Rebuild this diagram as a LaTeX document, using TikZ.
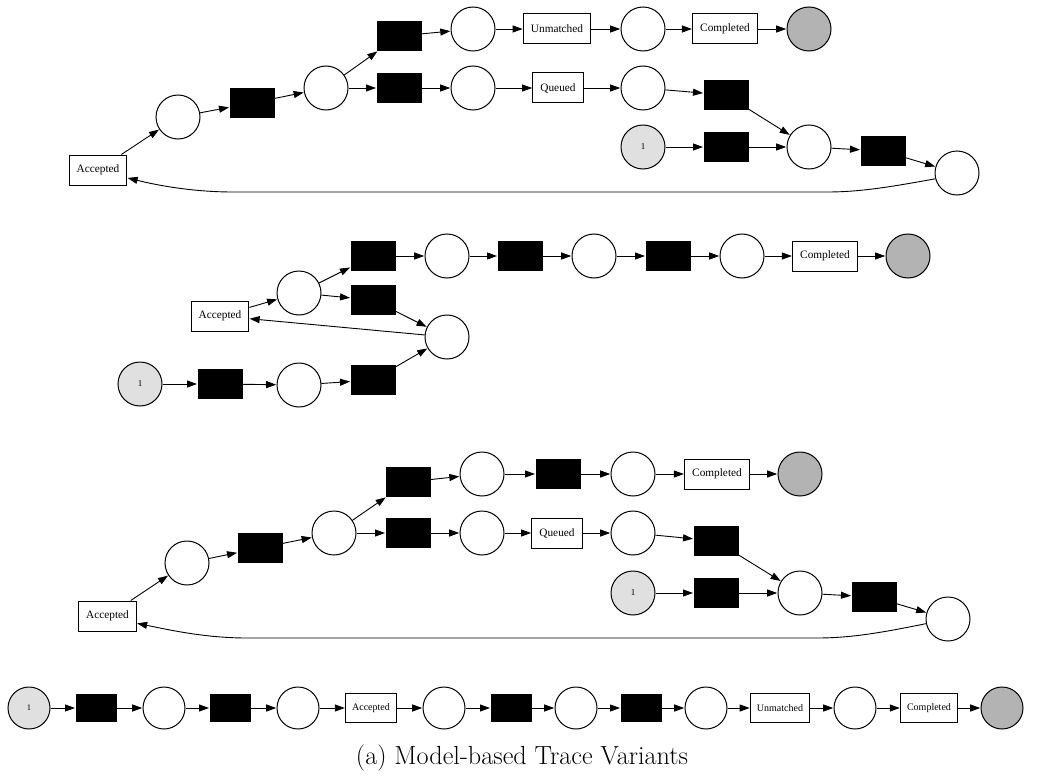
\documentclass[tikz,border=0pt]{standalone}
\usepackage{fontspec}
\usetikzlibrary{arrows.meta}
\newfontfamily\labfont{Liberation Serif}
\definecolor{startgray}{HTML}{E0E0E0}
\definecolor{endgray}{HTML}{B3B3B3}
\tikzset{
  place/.style={circle, draw, line width=1pt, minimum size=44pt, inner sep=0pt, fill=white},
  trans/.style={rectangle, fill=black, minimum width=45pt, minimum height=30pt, inner sep=0pt},
  lab/.style={rectangle, draw, line width=1pt, fill=white, minimum height=30pt, inner xsep=7.5pt, inner ysep=0pt, font=\labfont\fontsize{11.3}{13}\selectfont},
  startp/.style={place, fill=startgray, font=\labfont\fontsize{9}{10}\selectfont},
  endp/.style={place, fill=endgray},
  splace/.style={place, minimum size=42pt},
  strans/.style={trans, minimum width=41pt, minimum height=28pt},
  slab/.style={lab, minimum height=29pt, inner xsep=6.5pt, font=\labfont\fontsize{10}{12}\selectfont},
  sstart/.style={startp, minimum size=42pt, font=\labfont\fontsize{8.5}{10}\selectfont},
  send/.style={endp, minimum size=42pt},
  arc/.style={-{Triangle[length=10pt,width=7pt]}, line width=0.9pt, shorten >=0.3pt},
}
\begin{document}
\begin{tikzpicture}[x=1pt, y=-1pt]
\useasboundingbox[fill=white] (0,0) rectangle (1041,781);
% ---------------- Variant 1 ----------------
\node[lab] (a1A) at (98,170) {Accepted};
\node[place] (a1p1) at (178,117) {};
\node[trans] (a1t1) at (252,103) {};
\node[place] (a1p2) at (326,88) {};
\node[trans] (a1t2) at (399,36) {};
\node[trans] (a1t3) at (399,88) {};
\node[place] (a1p3) at (473,29) {};
\node[place] (a1p4) at (473,88) {};
\node[lab] (a1U) at (557,29) {Unmatched};
\node[place] (a1p5) at (643,29) {};
\node[lab] (a1C) at (725,29) {Completed};
\node[endp] (a1E) at (809,29) {};
\node[lab] (a1Q) at (558,88) {Queued};
\node[place] (a1p6) at (643,88) {};
\node[trans] (a1t4) at (726,95) {};
\node[startp] (a1S) at (643,147) {1};
\node[trans] (a1t5) at (726,147) {};
\node[place] (a1p7) at (809,147) {};
\node[trans] (a1t6) at (883,151) {};
\node[place] (a1p8) at (957,173) {};
\draw[arc] (a1A) -- (a1p1);
\draw[arc] (a1p1) -- (a1t1);
\draw[arc] (a1t1) -- (a1p2);
\draw[arc] (a1p2) -- (a1t2);
\draw[arc] (a1p2) -- (a1t3);
\draw[arc] (a1t2) -- (a1p3);
\draw[arc] (a1t3) -- (a1p4);
\draw[arc] (a1p3) -- (a1U);
\draw[arc] (a1U) -- (a1p5);
\draw[arc] (a1p5) -- (a1C);
\draw[arc] (a1C) -- (a1E);
\draw[arc] (a1p4) -- (a1Q);
\draw[arc] (a1Q) -- (a1p6);
\draw[arc] (a1p6) -- (a1t4);
\draw[arc] (a1t4) -- (a1p7);
\draw[arc] (a1S) -- (a1t5);
\draw[arc] (a1t5) -- (a1p7);
\draw[arc] (a1p7) -- (a1t6);
\draw[arc] (a1t6) -- (a1p8);
\draw[arc] (a1p8.195) .. controls (890,187) and (860,192) .. (827,192) -- (233,192) .. controls (195,192) and (160,186) .. (a1A.-15);
% ---------------- Variant 2 ----------------
\node[lab] (b2A) at (220,316) {Accepted};
\node[place] (b2p1) at (299,293) {};
\node[trans] (b2t1) at (373,256) {};
\node[trans] (b2t2) at (373,300) {};
\node[place] (b2p2) at (447,337) {};
\node[place] (b2p3) at (447,256) {};
\node[trans] (b2t3) at (520,256) {};
\node[place] (b2p4) at (594,256) {};
\node[trans] (b2t4) at (668,256) {};
\node[place] (b2p5) at (742,256) {};
\node[lab] (b2C) at (825,256) {Completed};
\node[endp] (b2E) at (908,256) {};
\node[startp] (b2S) at (140,384) {1};
\node[trans] (b2t5) at (220,384) {};
\node[place] (b2p6) at (299,385) {};
\node[trans] (b2t6) at (373,380) {};
\draw[arc] (b2A) -- (b2p1);
\draw[arc] (b2p1) -- (b2t1);
\draw[arc] (b2p1) -- (b2t2);
\draw[arc] (b2t1) -- (b2p3);
\draw[arc] (b2t2) -- (b2p2);
\draw[arc] (b2p3) -- (b2t3);
\draw[arc] (b2t3) -- (b2p4);
\draw[arc] (b2p4) -- (b2t4);
\draw[arc] (b2t4) -- (b2p5);
\draw[arc] (b2p5) -- (b2C);
\draw[arc] (b2C) -- (b2E);
\draw[arc] (b2p2) -- (b2A);
\draw[arc] (b2S) -- (b2t5);
\draw[arc] (b2t5) -- (b2p6);
\draw[arc] (b2p6) -- (b2t6);
\draw[arc] (b2t6) -- (b2p2);
% ---------------- Variant 3 ----------------
\node[lab] (c3A) at (107.5,616) {Accepted};
\node[place] (c3p1) at (187,563) {};
\node[trans] (c3t1) at (260,548) {};
\node[place] (c3p2) at (334,533) {};
\node[trans] (c3t2) at (408,482) {};
\node[trans] (c3t3) at (408,533) {};
\node[place] (c3p3) at (482,474) {};
\node[place] (c3p4) at (482,533) {};
\node[trans] (c3t4) at (558,474) {};
\node[place] (c3p5) at (633,474) {};
\node[lab] (c3C) at (717,474) {Completed};
\node[endp] (c3E) at (800,474) {};
\node[lab] (c3Q) at (557,533) {Queued};
\node[place] (c3p6) at (633,533) {};
\node[trans] (c3t5) at (716,541) {};
\node[startp] (c3S) at (633,593) {1};
\node[trans] (c3t6) at (716,593) {};
\node[place] (c3p7) at (800,593) {};
\node[trans] (c3t7) at (874,597) {};
\node[place] (c3p8) at (948,619) {};
\draw[arc] (c3A) -- (c3p1);
\draw[arc] (c3p1) -- (c3t1);
\draw[arc] (c3t1) -- (c3p2);
\draw[arc] (c3p2) -- (c3t2);
\draw[arc] (c3p2) -- (c3t3);
\draw[arc] (c3t2) -- (c3p3);
\draw[arc] (c3t3) -- (c3p4);
\draw[arc] (c3p3) -- (c3t4);
\draw[arc] (c3t4) -- (c3p5);
\draw[arc] (c3p5) -- (c3C);
\draw[arc] (c3C) -- (c3E);
\draw[arc] (c3p4) -- (c3Q);
\draw[arc] (c3Q) -- (c3p6);
\draw[arc] (c3p6) -- (c3t5);
\draw[arc] (c3t5) -- (c3p7);
\draw[arc] (c3S) -- (c3t6);
\draw[arc] (c3t6) -- (c3p7);
\draw[arc] (c3p7) -- (c3t7);
\draw[arc] (c3t7) -- (c3p8);
\draw[arc] (c3p8.192) .. controls (880,633) and (850,638) .. (817,638) -- (247,638) .. controls (205,638) and (170,630) .. (c3A.-14);
% ---------------- Variant 4 ----------------
\node[sstart] (d4S) at (29,708) {1};
\node[strans] (d4t1) at (96,708) {};
\node[splace] (d4p1) at (164,708) {};
\node[strans] (d4t2) at (230,708) {};
\node[splace] (d4p2) at (298,708) {};
\node[slab] (d4A) at (371,708) {Accepted};
\node[splace] (d4p3) at (444,708) {};
\node[strans] (d4t3) at (511,708) {};
\node[splace] (d4p4) at (576,708) {};
\node[strans] (d4t4) at (641,708) {};
\node[splace] (d4p5) at (706,708) {};
\node[slab] (d4U) at (780,708) {Unmatched};
\node[splace] (d4p6) at (855,708) {};
\node[slab] (d4C) at (929,708) {Completed};
\node[send] (d4E) at (1002,708) {};
\draw[arc] (d4S) -- (d4t1);
\draw[arc] (d4t1) -- (d4p1);
\draw[arc] (d4p1) -- (d4t2);
\draw[arc] (d4t2) -- (d4p2);
\draw[arc] (d4p2) -- (d4A);
\draw[arc] (d4A) -- (d4p3);
\draw[arc] (d4p3) -- (d4t3);
\draw[arc] (d4t3) -- (d4p4);
\draw[arc] (d4p4) -- (d4t4);
\draw[arc] (d4t4) -- (d4p5);
\draw[arc] (d4p5) -- (d4U);
\draw[arc] (d4U) -- (d4p6);
\draw[arc] (d4p6) -- (d4C);
\draw[arc] (d4C) -- (d4E);
% ---------------- Caption ----------------
\node[anchor=base, inner sep=0pt, font=\fontsize{26.2}{31}\selectfont] (cap) at (522,764) {(a) Model-based Trace Variants};
\end{tikzpicture}
\end{document}
